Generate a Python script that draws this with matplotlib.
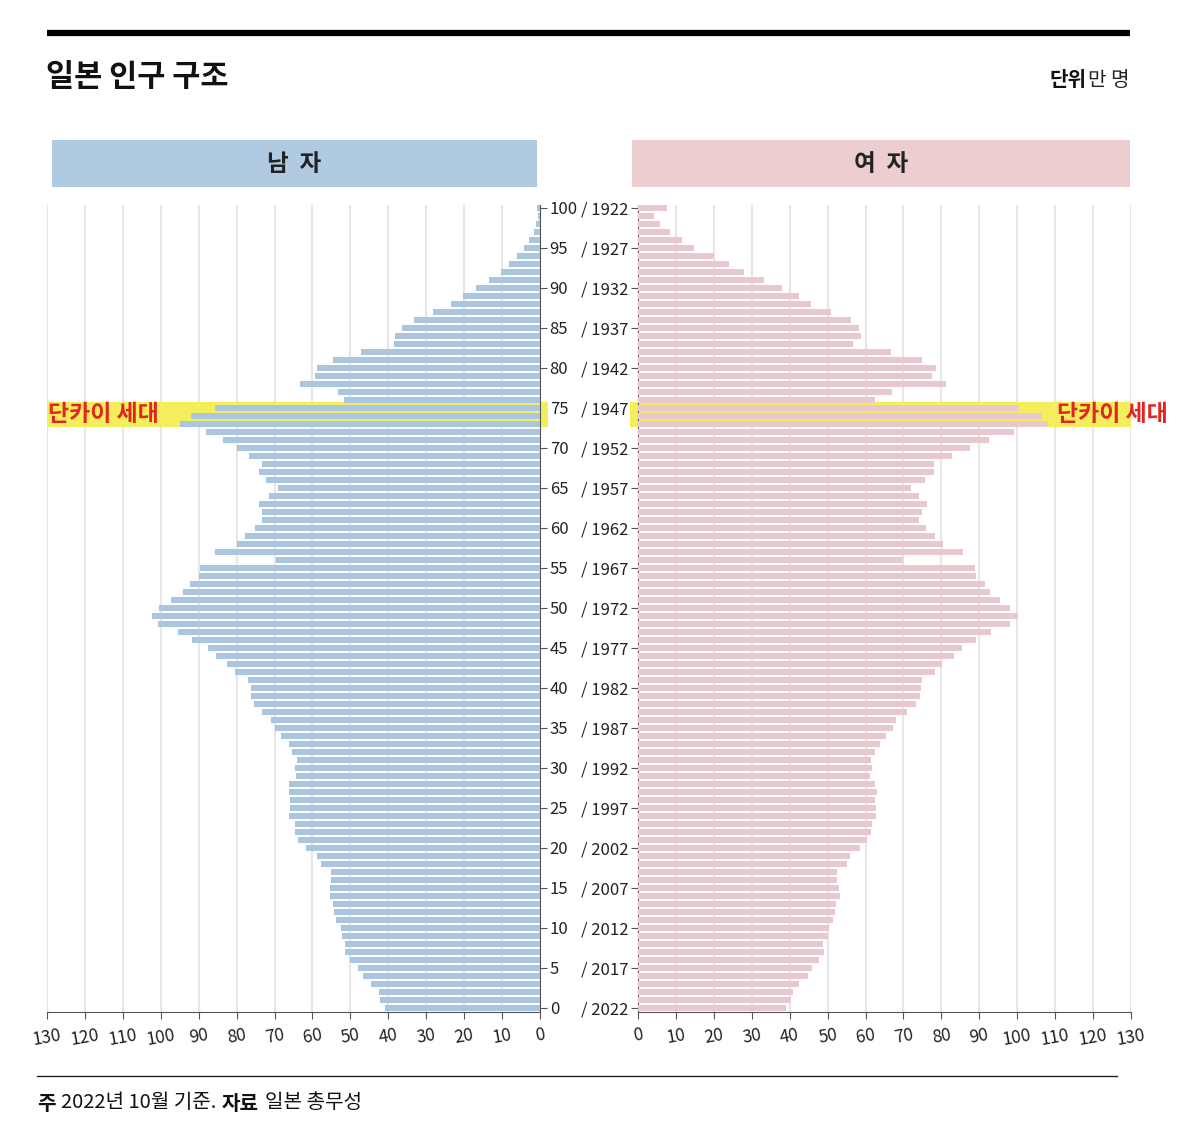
import numpy as np
import matplotlib.pyplot as plt
from matplotlib.patches import Rectangle

plt.rcParams['font.family'] = ['Noto Sans CJK KR', 'DejaVu Sans']

# population by single year of age, 10k people (Oct 2022)
ages = np.arange(0, 101)
male = [
    40.8, 42.3, 42.5, 44.5, 46.7, 47.9, 50.0, 51.3, 51.3, 52.3,
    52.5, 53.9, 54.4, 54.6, 55.5, 55.4, 55.1, 55.1, 57.7, 58.9,
    61.7, 63.7, 64.7, 64.7, 66.1, 65.9, 65.9, 66.3, 66.1, 64.4,
    64.7, 64.2, 65.3, 66.3, 68.3, 69.9, 70.9, 73.2, 75.4, 76.3,
    76.3, 77.0, 80.3, 82.5, 85.4, 87.6, 91.8, 95.4, 100.8, 102.2,
    100.4, 97.3, 94.1, 92.3, 89.9, 89.6, 69.6, 85.6, 80.0, 77.7,
    75.1, 73.2, 73.2, 74.2, 71.5, 69.2, 72.2, 74.0, 73.2, 76.7,
    80.0, 83.6, 88.0, 95.0, 92.1, 85.8, 51.6, 53.3, 63.2, 59.4,
    58.7, 54.7, 47.2, 38.6, 38.3, 36.4, 33.2, 28.2, 23.5, 20.3,
    16.8, 13.5, 10.3, 8.1, 6.1, 4.1, 2.8, 1.6, 1.0, 0.5,
    0.7,
]
female = [
    38.9, 40.4, 40.9, 42.5, 44.7, 45.9, 47.7, 49.0, 48.9, 50.2,
    50.4, 51.5, 52.0, 52.2, 53.2, 52.9, 52.5, 52.5, 55.0, 55.8,
    58.5, 60.5, 61.4, 61.8, 62.8, 62.7, 62.4, 63.1, 62.6, 61.1,
    61.7, 61.4, 62.6, 63.8, 65.5, 67.3, 68.1, 70.9, 73.2, 74.3,
    74.5, 74.9, 78.2, 80.2, 83.3, 85.4, 89.2, 93.1, 98.2, 100.3,
    98.2, 95.4, 92.7, 91.4, 89.1, 88.9, 70.0, 85.7, 80.4, 78.3,
    75.9, 74.2, 74.9, 76.1, 74.1, 72.1, 75.6, 78.0, 78.0, 82.8,
    87.5, 92.5, 99.1, 108.2, 106.6, 100.4, 62.5, 67.0, 81.2, 77.5,
    78.5, 74.9, 66.8, 56.6, 58.8, 58.4, 56.1, 50.9, 45.5, 42.5,
    38.0, 33.2, 28.0, 24.0, 20.0, 14.7, 11.6, 8.5, 5.9, 4.3,
    7.6,
]
tick_ages = list(range(0, 101, 5))
age_labels = [str(a) for a in tick_ages]
year_labels = [f"/ {2022 - a}" for a in tick_ages]
x_ticks = list(range(0, 131, 10))
dankai = (72.65, 75.8)  # band of the baby boom generation

MALE_C, FEMALE_C = "#a9c5df", "#eac9ce"
MALE_BOX, FEMALE_BOX = "#b0cbe1", "#eccdd0"
YELLOW, RED = "#f5ee5c", "#e2261f"
AXIS_C = "#555555"

W, H = 1200, 1147
fig = plt.figure(figsize=(12, 11.47), dpi=100)


def px_box(x0, y0, x1, y1):
    return [x0 / W, 1 - y1 / H, (x1 - x0) / W, (y1 - y0) / H]


# pixel-space overlay for header / footer
bg = fig.add_axes([0, 0, 1, 1])
bg.set_xlim(0, W)
bg.set_ylim(H, 0)
bg.axis("off")

ax_m = fig.add_axes(px_box(47, 205, 540, 1012))
ax_f = fig.add_axes(px_box(638, 205, 1131, 1012))

for ax, vals, color in [(ax_m, male, MALE_C), (ax_f, female, FEMALE_C)]:
    ax.patch.set_visible(False)
    ax.barh(ages, vals, height=0.8, color=color, zorder=3)
    ax.set_ylim(-0.5, 100.375)
    ax.set_xticks(x_ticks)
    ax.grid(axis="x", color="#e6e6e6", lw=1.5, zorder=0)
    ax.set_axisbelow(True)
    ax.spines["top"].set_visible(False)
    ax.spines["bottom"].set_color(AXIS_C)
    ax.tick_params(axis="x", length=5, color=AXIS_C, labelsize=12.5,
                   pad=5, labelrotation=10, labelcolor="#222222")
    ax.tick_params(axis="y", length=5, color=AXIS_C, labelsize=12,
                   pad=2, labelcolor="#222222")

ax_m.set_xlim(130, 0)
ax_m.spines["left"].set_visible(False)
ax_m.spines["right"].set_color(AXIS_C)
ax_m.yaxis.tick_right()
ax_m.set_yticks(tick_ages, age_labels)

ax_f.set_xlim(0, 130)
ax_f.spines["right"].set_visible(False)
ax_f.spines["left"].set_color(AXIS_C)
ax_f.yaxis.tick_left()
ax_f.set_yticks(tick_ages, year_labels)

# dankai generation highlight
ax_m.add_patch(Rectangle((-2.1, dankai[0]), 132.1, dankai[1] - dankai[0],
                         color=YELLOW, zorder=2, clip_on=False, lw=0))
ax_f.add_patch(Rectangle((-2.1, dankai[0]), 132.1, dankai[1] - dankai[0],
                         color=YELLOW, zorder=2, clip_on=False, lw=0))
mid = sum(dankai) / 2
ax_m.text(129.7, mid, "단카이 세대", ha="left", va="center", color=RED,
          fontsize=16.5, fontweight="bold", zorder=4)
ax_f.text(110.6, mid, "단카이 세대", ha="left", va="center", color=RED,
          fontsize=16.5, fontweight="bold", zorder=4, clip_on=False)

# header
bg.plot([47, 1130], [33, 33], color="black", lw=4.5, solid_capstyle="butt")
bg.text(46, 77, "일본 인구 구조", fontsize=22, fontweight="bold",
        ha="left", va="center", color="#111111")
unit = bg.text(1130, 80, "만 명", fontsize=14.5, ha="right", va="center",
               color="#222222")
bg.annotate("단위", xy=(0, 0.5), xycoords=unit, xytext=(-1.5, 0),
            textcoords="offset points", ha="right", va="center",
            fontsize=14.5, fontweight="bold", color="#111111")

bg.add_patch(Rectangle((52, 140), 485, 47, color=MALE_BOX, lw=0))
bg.add_patch(Rectangle((632, 140), 498, 47, color=FEMALE_BOX, lw=0))
bg.text(294.5, 164, "남  자", fontsize=17, fontweight="bold",
        ha="center", va="center", color="#222222")
bg.text(881, 164, "여  자", fontsize=17, fontweight="bold",
        ha="center", va="center", color="#222222")

# footer
bg.plot([37, 1117], [1076, 1076], color="#222222", lw=1)
parts = [("주", "bold"), ("2022년 10월 기준.", "normal"),
         ("자료", "bold"), ("일본 총무성", "normal")]
prev = bg.text(37, 1103, parts[0][0], fontsize=14.5, fontweight=parts[0][1],
               ha="left", va="center", color="#111111")
for txt, wt in parts[1:]:
    prev = bg.annotate(txt, xy=(1, 0.5), xycoords=prev, xytext=(4, 0),
                       textcoords="offset points", ha="left", va="center",
                       fontsize=14.5, fontweight=wt, color="#111111")

fig.savefig("out.png", dpi=100, facecolor="white")
